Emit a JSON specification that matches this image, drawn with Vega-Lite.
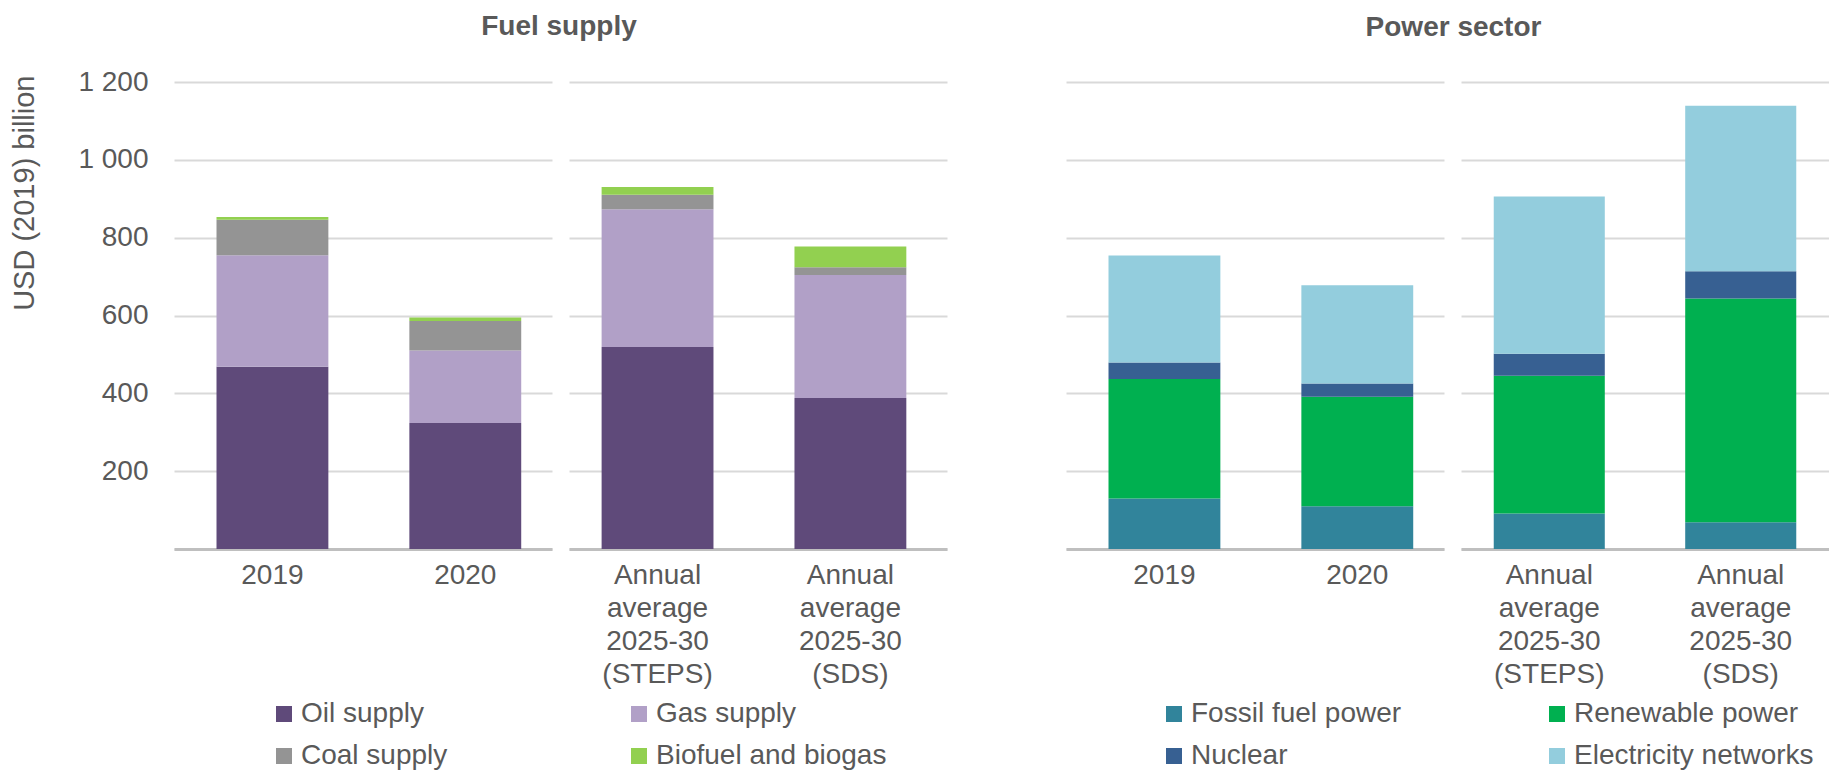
{
  "$schema": "https://vega.github.io/schema/vega-lite/v6.json",
  "padding": {"left": 10, "top": 13, "right": 0, "bottom": 0},
  "config": {
    "font": "Liberation Sans",
    "view": {"stroke": null},
    "axis": {"labelColor": "#595959", "titleColor": "#595959"},
    "title": {"fontSize": 28, "fontWeight": "bold", "color": "#595959", "anchor": "middle"}
  },
  "datasets": {
    "inv": [
      {"panel": "Fuel", "grp": "hist", "period": "2019", "series": "Oil supply", "k": 1, "value": 468},
      {"panel": "Fuel", "grp": "hist", "period": "2019", "series": "Gas supply", "k": 2, "value": 287},
      {"panel": "Fuel", "grp": "hist", "period": "2019", "series": "Coal supply", "k": 3, "value": 91},
      {"panel": "Fuel", "grp": "hist", "period": "2019", "series": "Biofuel and biogas", "k": 4, "value": 7},
      {"panel": "Fuel", "grp": "hist", "period": "2020", "series": "Oil supply", "k": 1, "value": 324},
      {"panel": "Fuel", "grp": "hist", "period": "2020", "series": "Gas supply", "k": 2, "value": 186},
      {"panel": "Fuel", "grp": "hist", "period": "2020", "series": "Coal supply", "k": 3, "value": 76},
      {"panel": "Fuel", "grp": "hist", "period": "2020", "series": "Biofuel and biogas", "k": 4, "value": 9},
      {"panel": "Fuel", "grp": "proj", "period": "Annual average 2025-30 (STEPS)", "series": "Oil supply", "k": 1, "value": 519},
      {"panel": "Fuel", "grp": "proj", "period": "Annual average 2025-30 (STEPS)", "series": "Gas supply", "k": 2, "value": 354},
      {"panel": "Fuel", "grp": "proj", "period": "Annual average 2025-30 (STEPS)", "series": "Coal supply", "k": 3, "value": 37},
      {"panel": "Fuel", "grp": "proj", "period": "Annual average 2025-30 (STEPS)", "series": "Biofuel and biogas", "k": 4, "value": 20},
      {"panel": "Fuel", "grp": "proj", "period": "Annual average 2025-30 (SDS)", "series": "Oil supply", "k": 1, "value": 388},
      {"panel": "Fuel", "grp": "proj", "period": "Annual average 2025-30 (SDS)", "series": "Gas supply", "k": 2, "value": 316},
      {"panel": "Fuel", "grp": "proj", "period": "Annual average 2025-30 (SDS)", "series": "Coal supply", "k": 3, "value": 20},
      {"panel": "Fuel", "grp": "proj", "period": "Annual average 2025-30 (SDS)", "series": "Biofuel and biogas", "k": 4, "value": 53},
      {"panel": "Power", "grp": "hist", "period": "2019", "series": "Fossil fuel power", "k": 1, "value": 130},
      {"panel": "Power", "grp": "hist", "period": "2019", "series": "Renewable power", "k": 2, "value": 307},
      {"panel": "Power", "grp": "hist", "period": "2019", "series": "Nuclear", "k": 3, "value": 42},
      {"panel": "Power", "grp": "hist", "period": "2019", "series": "Electricity networks", "k": 4, "value": 275},
      {"panel": "Power", "grp": "hist", "period": "2020", "series": "Fossil fuel power", "k": 1, "value": 110},
      {"panel": "Power", "grp": "hist", "period": "2020", "series": "Renewable power", "k": 2, "value": 281},
      {"panel": "Power", "grp": "hist", "period": "2020", "series": "Nuclear", "k": 3, "value": 34},
      {"panel": "Power", "grp": "hist", "period": "2020", "series": "Electricity networks", "k": 4, "value": 253},
      {"panel": "Power", "grp": "proj", "period": "Annual average 2025-30 (STEPS)", "series": "Fossil fuel power", "k": 1, "value": 91},
      {"panel": "Power", "grp": "proj", "period": "Annual average 2025-30 (STEPS)", "series": "Renewable power", "k": 2, "value": 354},
      {"panel": "Power", "grp": "proj", "period": "Annual average 2025-30 (STEPS)", "series": "Nuclear", "k": 3, "value": 57},
      {"panel": "Power", "grp": "proj", "period": "Annual average 2025-30 (STEPS)", "series": "Electricity networks", "k": 4, "value": 404},
      {"panel": "Power", "grp": "proj", "period": "Annual average 2025-30 (SDS)", "series": "Fossil fuel power", "k": 1, "value": 69},
      {"panel": "Power", "grp": "proj", "period": "Annual average 2025-30 (SDS)", "series": "Renewable power", "k": 2, "value": 575},
      {"panel": "Power", "grp": "proj", "period": "Annual average 2025-30 (SDS)", "series": "Nuclear", "k": 3, "value": 70},
      {"panel": "Power", "grp": "proj", "period": "Annual average 2025-30 (SDS)", "series": "Electricity networks", "k": 4, "value": 425}
    ]
  },
  "resolve": {"scale": {"color": "independent"}, "legend": {"color": "independent"}},
  "spacing": 119,
  "hconcat": [
    {
      "title": {"text": "Fuel supply", "offset": 27, "dx": 80},
      "spacing": 17,
      "hconcat": [
        {
          "width": 378, "height": 467,
          "data": {"name": "inv"},
          "transform": [{"filter": "datum.panel == 'Fuel' && datum.grp == 'hist'"}],
          "mark": {"type": "bar"},
          "encoding": {
            "x": {"field": "period", "type": "nominal", "sort": null,
              "scale": {"paddingInner": 0.42, "paddingOuter": 0.19, "align": 0.58},
              "axis": {"title": null, "labelAngle": 0, "labelFontSize": 28, "labelLineHeight": 33, "labelPadding": 12, "ticks": false, "domainColor": "#bfbfbf", "domainWidth": 3, "labelExpr": "split(datum.label, ' ')", "labelLimit": 300}},
            "y": {"field": "value", "type": "quantitative", "aggregate": "sum",
              "scale": {"domain": [0, 1200]},
              "axis": {"values": [0, 200, 400, 600, 800, 1000, 1200], "labelExpr": "datum.value == 0 ? '' : replace(format(datum.value, ','), ',', ' ')", "title": "USD (2019) billion", "titleAnchor": "end", "titleY": -7, "titleFontSize": 29, "titleFontWeight": "normal", "titlePadding": 38, "labelFontSize": 28, "labelPadding": 26, "ticks": false, "domain": false, "gridColor": "#d9d9d9", "gridWidth": 2}},
            "color": {"field": "series", "type": "nominal",
              "scale": {"domain": ["Oil supply", "Gas supply", "Coal supply", "Biofuel and biogas"], "range": ["#5f4a7a", "#b1a0c7", "#949494", "#92d050"]},
              "legend": {"orient": "none", "direction": "horizontal", "legendX": 96, "legendY": 618, "columns": 2, "columnPadding": 177, "rowPadding": 14, "symbolType": "square", "symbolSize": 256, "symbolStrokeWidth": 0, "labelFontSize": 28, "labelColor": "#595959", "labelOffset": 3, "labelLimit": 400, "title": null}},
            "order": {"field": "k", "type": "quantitative", "sort": "ascending"}
          }
        },
        {
          "width": 378, "height": 467,
          "data": {"name": "inv"},
          "transform": [{"filter": "datum.panel == 'Fuel' && datum.grp == 'proj'"}],
          "mark": {"type": "bar"},
          "encoding": {
            "x": {"field": "period", "type": "nominal", "sort": ["Annual average 2025-30 (STEPS)", "Annual average 2025-30 (SDS)"],
              "scale": {"paddingInner": 0.42, "paddingOuter": 0.19, "align": 0.445},
              "axis": {"title": null, "labelAngle": 0, "labelFontSize": 28, "labelLineHeight": 33, "labelPadding": 12, "ticks": false, "domainColor": "#bfbfbf", "domainWidth": 3, "labelExpr": "split(datum.label, ' ')", "labelLimit": 300}},
            "y": {"field": "value", "type": "quantitative", "aggregate": "sum",
              "scale": {"domain": [0, 1200]},
              "axis": {"values": [0, 200, 400, 600, 800, 1000, 1200], "labels": false, "title": null, "ticks": false, "domain": false, "gridColor": "#d9d9d9", "gridWidth": 2}},
            "color": {"field": "series", "type": "nominal",
              "scale": {"domain": ["Oil supply", "Gas supply", "Coal supply", "Biofuel and biogas"], "range": ["#5f4a7a", "#b1a0c7", "#949494", "#92d050"]},
              "legend": {"orient": "none", "direction": "horizontal", "legendX": 96, "legendY": 618, "columns": 2, "columnPadding": 177, "rowPadding": 14, "symbolType": "square", "symbolSize": 256, "symbolStrokeWidth": 0, "labelFontSize": 28, "labelColor": "#595959", "labelOffset": 3, "labelLimit": 400, "title": null}},
            "order": {"field": "k", "type": "quantitative", "sort": "ascending"}
          }
        }
      ]
    },
    {
      "title": {"text": "Power sector", "offset": 40, "dx": 6},
      "spacing": 17,
      "hconcat": [
        {
          "width": 378, "height": 467,
          "data": {"name": "inv"},
          "transform": [{"filter": "datum.panel == 'Power' && datum.grp == 'hist'"}],
          "mark": {"type": "bar"},
          "encoding": {
            "x": {"field": "period", "type": "nominal", "sort": null,
              "scale": {"paddingInner": 0.42, "paddingOuter": 0.19, "align": 0.58},
              "axis": {"title": null, "labelAngle": 0, "labelFontSize": 28, "labelLineHeight": 33, "labelPadding": 12, "ticks": false, "domainColor": "#bfbfbf", "domainWidth": 3, "labelExpr": "split(datum.label, ' ')", "labelLimit": 300}},
            "y": {"field": "value", "type": "quantitative", "aggregate": "sum",
              "scale": {"domain": [0, 1200]},
              "axis": {"values": [0, 200, 400, 600, 800, 1000, 1200], "labels": false, "title": null, "ticks": false, "domain": false, "gridColor": "#d9d9d9", "gridWidth": 2}},
            "color": {"field": "series", "type": "nominal",
              "scale": {"domain": ["Fossil fuel power", "Renewable power", "Nuclear", "Electricity networks"], "range": ["#31849b", "#00b050", "#376092", "#93cddd"]},
              "legend": {"orient": "none", "direction": "horizontal", "legendX": 94, "legendY": 618, "columns": 2, "columnPadding": 141, "rowPadding": 14, "symbolType": "square", "symbolSize": 256, "symbolStrokeWidth": 0, "labelFontSize": 28, "labelColor": "#595959", "labelOffset": 3, "labelLimit": 400, "title": null}},
            "order": {"field": "k", "type": "quantitative", "sort": "ascending"}
          }
        },
        {
          "width": 368, "height": 467,
          "data": {"name": "inv"},
          "transform": [{"filter": "datum.panel == 'Power' && datum.grp == 'proj'"}],
          "mark": {"type": "bar"},
          "encoding": {
            "x": {"field": "period", "type": "nominal", "sort": ["Annual average 2025-30 (STEPS)", "Annual average 2025-30 (SDS)"],
              "scale": {"paddingInner": 0.42, "paddingOuter": 0.171},
              "axis": {"title": null, "labelAngle": 0, "labelFontSize": 28, "labelLineHeight": 33, "labelPadding": 12, "ticks": false, "domainColor": "#bfbfbf", "domainWidth": 3, "labelExpr": "split(datum.label, ' ')", "labelLimit": 300}},
            "y": {"field": "value", "type": "quantitative", "aggregate": "sum",
              "scale": {"domain": [0, 1200]},
              "axis": {"values": [0, 200, 400, 600, 800, 1000, 1200], "labels": false, "title": null, "ticks": false, "domain": false, "gridColor": "#d9d9d9", "gridWidth": 2}},
            "color": {"field": "series", "type": "nominal",
              "scale": {"domain": ["Fossil fuel power", "Renewable power", "Nuclear", "Electricity networks"], "range": ["#31849b", "#00b050", "#376092", "#93cddd"]},
              "legend": {"orient": "none", "direction": "horizontal", "legendX": 94, "legendY": 618, "columns": 2, "columnPadding": 141, "rowPadding": 14, "symbolType": "square", "symbolSize": 256, "symbolStrokeWidth": 0, "labelFontSize": 28, "labelColor": "#595959", "labelOffset": 3, "labelLimit": 400, "title": null}},
            "order": {"field": "k", "type": "quantitative", "sort": "ascending"}
          }
        }
      ]
    }
  ]
}
